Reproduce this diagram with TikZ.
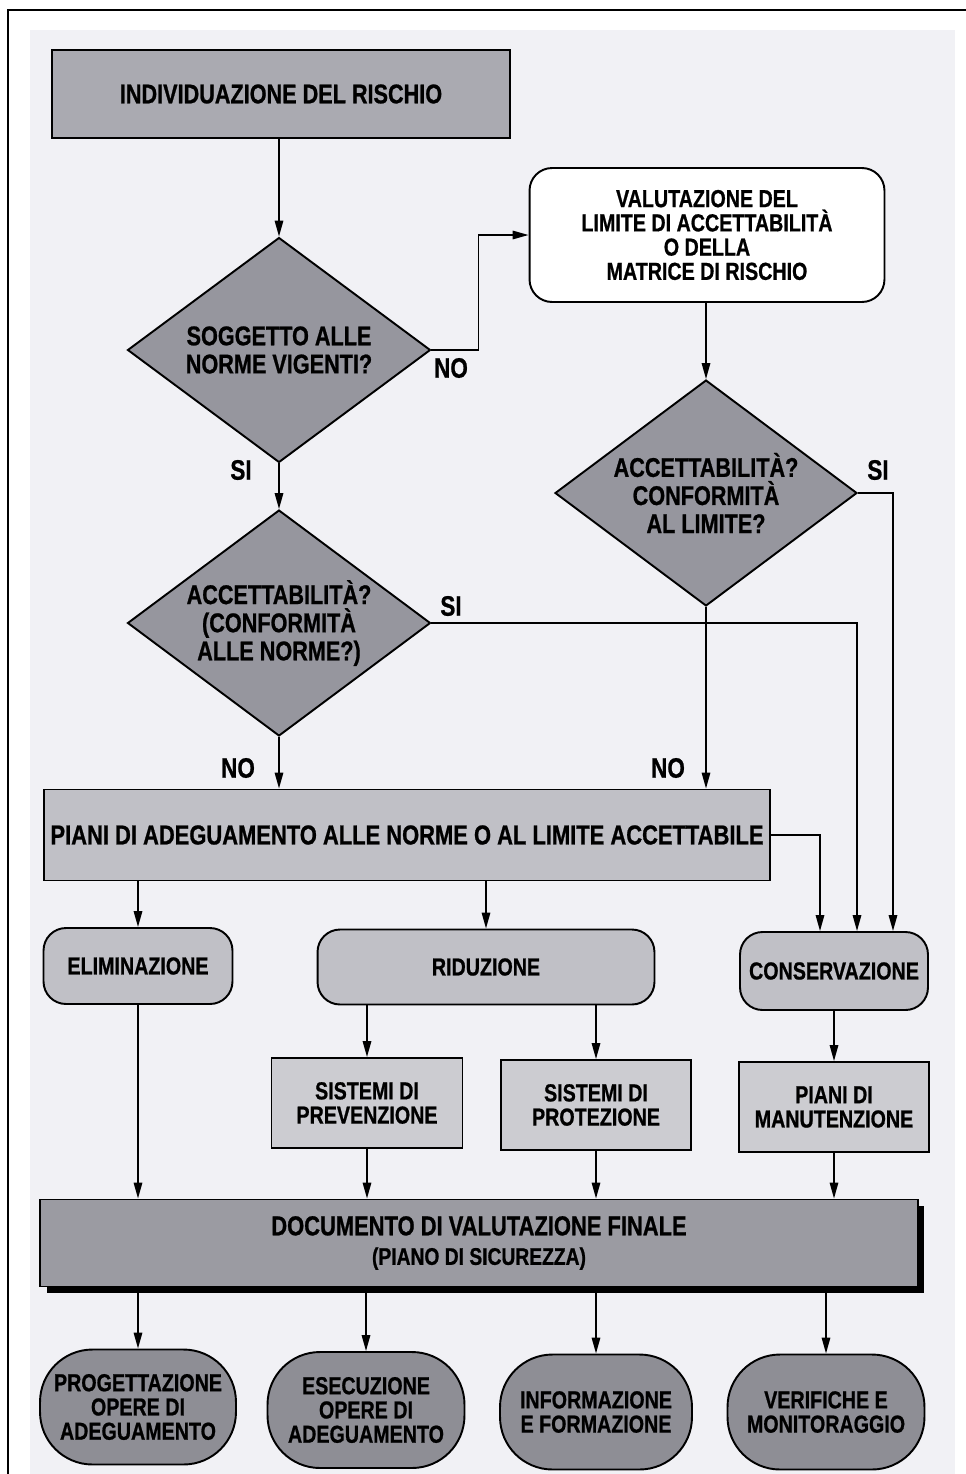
\documentclass[tikz,border=0pt]{standalone}
\usepackage{fontspec}
\usepackage{tikz}
\usetikzlibrary{shapes.geometric,arrows.meta,shadows}
\setmainfont{Liberation Sans}[FakeStretch=0.8,BoldFeatures={FakeBold=0.8}]

\definecolor{bgpaper}{RGB}{241,241,245}
\definecolor{grtop}{RGB}{170,170,177}
\definecolor{grdiam}{RGB}{150,150,158}
\definecolor{grlight}{RGB}{192,192,198}
\definecolor{grbox}{RGB}{204,204,209}
\definecolor{grdoc}{RGB}{155,155,162}
\definecolor{groval}{RGB}{142,142,149}

\begin{document}
\begin{tikzpicture}
			[x=0.02cm,y=-0.02cm,line width=0.9pt,
			 every node/.style={font=\bfseries\fontsize{14}{13.8}\selectfont,align=center,inner sep=0pt},
			 box/.style={draw,rectangle,line width=1.1pt},
			 rbox/.style={draw,rectangle,rounded corners=0.45cm,line width=1.1pt},
			 quest/.style={draw,diamond,fill=grdiam,line width=1.1pt,shape aspect=1.35,font=\bfseries\fontsize{15.4}{16}\selectfont},
			 final/.style={draw,rectangle,rounded corners=1.05cm,fill=groval,line width=1.1pt},
			 lbl/.style={font=\bfseries\fontsize{16}{16}\selectfont},
			 arr/.style={-{Triangle[length=3.2mm,width=1.7mm]}}]
				\useasboundingbox (0,0) rectangle (966,1474);
				\fill[bgpaper] (30,30) rectangle (955,1474);
				\draw[line width=0.8pt] (8,1480) -- (8,10) -- (975,10);
				% nodi principali
				\node[box,fill=grtop,minimum width=9.16cm,minimum height=1.76cm,font=\bfseries\fontsize{15.4}{16}\selectfont] (ind) at (281,94) {INDIVIDUAZIONE DEL RISCHIO};
				\node[quest,minimum width=6.06cm,minimum height=4.5cm] (d1) at (279,350) {SOGGETTO ALLE\\NORME VIGENTI?};
				\node[rbox,fill=white,minimum width=7.1cm,minimum height=2.68cm] (val) at (707,235) {VALUTAZIONE DEL\\LIMITE DI ACCETTABILITÀ\\O DELLA\\MATRICE DI RISCHIO};
				\node[quest,minimum width=6.04cm,minimum height=4.52cm] (d3) at (706,493) {ACCETTABILITÀ?\\CONFORMITÀ\\AL LIMITE?};
				\node[quest,minimum width=6.06cm,minimum height=4.52cm] (d2) at (279,623) {ACCETTABILITÀ?\\(CONFORMITÀ\\ALLE NORME?)};
				\node[box,fill=grlight,minimum width=14.54cm,minimum height=1.82cm,font=\bfseries\fontsize{15.6}{16}\selectfont] (piani) at (407,835) {PIANI DI ADEGUAMENTO ALLE NORME O AL LIMITE ACCETTABILE};
				\node[rbox,fill=grlight,minimum width=3.78cm,minimum height=1.52cm] (elim) at (138,966) {ELIMINAZIONE};
				\node[rbox,fill=grlight,minimum width=6.74cm,minimum height=1.5cm] (rid) at (486,967) {RIDUZIONE};
				\node[rbox,fill=grlight,minimum width=3.76cm,minimum height=1.56cm] (cons) at (834,971) {CONSERVAZIONE};
				\node[box,fill=grbox,minimum width=3.82cm,minimum height=1.8cm] (prev) at (367,1103) {SISTEMI DI\\PREVENZIONE};
				\node[box,fill=grbox,minimum width=3.8cm,minimum height=1.8cm] (prot) at (596,1105) {SISTEMI DI\\PROTEZIONE};
				\node[box,fill=grbox,minimum width=3.8cm,minimum height=1.8cm] (manut) at (834,1107) {PIANI DI\\MANUTENZIONE};
				\node[box,fill=grdoc,minimum width=17.56cm,minimum height=1.74cm,
				      drop shadow={shadow xshift=0.13cm,shadow yshift=-0.13cm,fill=black,opacity=1}] (doc) at (479,1243)
				      {\fontsize{15.6}{16}\selectfont DOCUMENTO DI VALUTAZIONE FINALE\\[3pt]\fontsize{13.7}{15}\selectfont (PIANO DI SICUREZZA)};
				\node[final,minimum width=3.92cm,minimum height=2.3cm] (prog) at (138,1407) {PROGETTAZIONE\\OPERE DI\\ADEGUAMENTO};
				\node[final,minimum width=3.94cm,minimum height=2.32cm] (esec) at (366,1410) {ESECUZIONE\\OPERE DI\\ADEGUAMENTO};
				\node[final,minimum width=3.84cm,minimum height=2.3cm] (info) at (596,1412) {INFORMAZIONE\\E FORMAZIONE};
				\node[final,minimum width=3.94cm,minimum height=2.3cm] (verif) at (826,1412) {VERIFICHE E\\MONITORAGGIO};
				% etichette SI / NO
				\node[lbl] (no1) at (451,368) {NO};
				\node[lbl] (si1) at (241,470) {SI};
				\node[lbl] (si2) at (451,606) {SI};
				\node[lbl] (no2) at (238,768) {NO};
				\node[lbl] (no3) at (668,768) {NO};
				\node[lbl] (si3) at (878,470) {SI};
				% collegamenti
				\draw[arr] (ind.south -| d1) -- (d1.north);
				\draw[arr] (d1.south) -- (d2.north);
				\draw[arr] (d1.east) -- ++(47,0) |- (val.west);
				\draw[arr] (val.south -| d3) -- (d3.north);
				\draw[arr] (d2.south) -- (d2.south |- piani.north);
				\draw[arr] (d3.south) -- (d3.south |- piani.north);
				\draw[arr] (d2.east) -| ([xshift=0.46cm]cons.north);
				\draw[arr] (d3.east) -| ([xshift=1.18cm]cons.north);
				\draw[arr] (piani.east) -| ([xshift=-0.28cm]cons.north);
				\foreach \from/\to in {elim/doc,prev/doc,prot/doc,manut/doc}
				\draw[arr] (\from.south) -- (\from.south |- \to.north);
				\foreach \from/\to in {piani/elim,piani/rid,rid/prev,rid/prot,cons/manut,doc/prog,doc/esec,doc/info,doc/verif}
				\draw[arr] (\from.south -| \to) -- (\to.north);
			\end{tikzpicture}
\end{document}
